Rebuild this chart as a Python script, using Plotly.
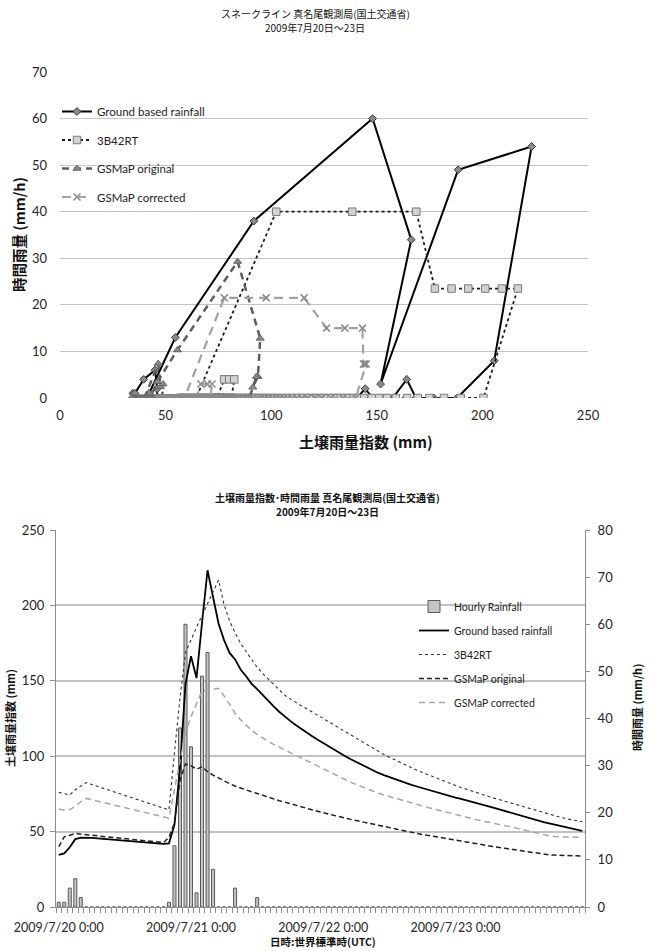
import plotly.graph_objects as go
import pandas as pd

# ---------------- data ----------------
hours = pd.date_range("2009-07-20 00:00", periods=96, freq="h")

# ground based hourly rainfall (mm/h)
ground_rain = [1, 1, 4, 6, 2, 0, 0, 0, 0, 0,
               0, 0, 0, 0, 0, 0, 0, 0, 0, 0,
               1, 13, 38, 60, 34, 3, 49, 54, 8, 0,
               0, 0, 4, 0, 0, 0, 2, 0, 0, 0,
               0, 0, 0, 0, 0, 0, 0, 0, 0, 0,
               0, 0, 0, 0, 0, 0, 0, 0, 0, 0,
               0, 0, 0, 0, 0, 0, 0, 0, 0, 0,
               0, 0, 0, 0, 0, 0, 0, 0, 0, 0,
               0, 0, 0, 0, 0, 0, 0, 0, 0, 0,
               0, 0, 0, 0, 0, 0]
# soil water index (mm) from ground rainfall
ground_swi = [34.5, 35.5, 39.6, 45.0, 46.0, 46.0, 45.8, 45.5, 45.2, 44.9,
              44.6, 44.3, 44.0, 43.7, 43.4, 43.1, 42.8, 42.5, 42.2, 41.9,
              42.2, 54.6, 91.8, 148.0, 166.3, 151.8, 188.5, 223.3, 205.6, 188.0,
              177.0, 168.5, 164.2, 157.5, 153.0, 148.0, 144.5, 140.6, 136.5, 133.0,
              129.5, 126.3, 123.4, 120.7, 118.1, 115.6, 113.2, 110.9, 108.6, 106.4,
              104.2, 102.0, 100.0, 98.0, 96.1, 94.2, 92.4, 90.6, 88.9, 87.5,
              86.1, 84.8, 83.5, 82.2, 81.0, 79.9, 78.8, 77.7, 76.6, 75.5,
              74.4, 73.5, 72.6, 71.7, 70.8, 69.9, 69.0, 67.9, 66.8, 65.7,
              64.6, 63.5, 62.4, 61.3, 60.3, 59.3, 58.3, 57.3, 56.3, 55.4,
              54.5, 53.7, 52.9, 52.1, 51.3, 50.5]

trmm_rain = [0, 0, 0, 4, 4, 4, 0, 0, 0, 0,
             0, 0, 0, 0, 0, 0, 0, 0, 0, 0,
             0, 40, 40, 40, 23.5, 23.5, 23.5, 23.5, 23.5, 23.5,
             0, 0, 0, 0, 0, 0, 0, 0, 0, 0,
             0, 0, 0, 0, 0, 0, 0, 0, 0, 0,
             0, 0, 0, 0, 0, 0, 0, 0, 0, 0,
             0, 0, 0, 0, 0, 0, 0, 0, 0, 0,
             0, 0, 0, 0, 0, 0, 0, 0, 0, 0,
             0, 0, 0, 0, 0, 0, 0, 0, 0, 0,
             0, 0, 0, 0, 0, 0]
trmm_swi = [76.0, 75.0, 74.3, 77.8, 80.1, 82.5, 81.2, 80.0, 78.8, 77.6,
            76.4, 75.2, 74.0, 72.8, 71.6, 70.4, 69.2, 68.0, 66.8, 65.6,
            64.4, 102.4, 138.4, 168.7, 177.5, 185.4, 193.3, 201.3, 209.2, 216.8,
            200.5, 189.7, 181.8, 174.9, 169.4, 164.3, 159.0, 154.8, 151.1, 147.6,
            143.7, 140.5, 138.0, 135.6, 133.5, 131.4, 129.4, 127.2, 125.0, 122.8,
            120.6, 118.5, 116.3, 114.1, 111.9, 109.6, 107.4, 105.2, 103.0, 101.1,
            99.3, 97.5, 95.7, 93.9, 92.2, 90.7, 89.2, 87.7, 86.2, 84.7,
            83.2, 81.9, 80.6, 79.3, 78.0, 76.7, 75.5, 74.4, 73.3, 72.2,
            71.1, 70.0, 68.9, 67.8, 66.7, 65.6, 64.5, 63.4, 62.3, 61.3,
            60.4, 59.5, 58.6, 57.8, 57.2, 56.6]

orig_rain = [0, 7.4, 2.4, 3.0, 0, 0, 0, 0, 0, 0,
             0, 0, 0, 0, 0, 0, 0, 0, 0, 0,
             3.5, 10.3, 29.3, 12.8, 4.6, 2.3, 4.6, 0, 0, 0,
             0, 0, 0, 0, 0, 0, 0, 0, 0, 0,
             0, 0, 0, 0, 0, 0, 0, 0, 0, 0,
             0, 0, 0, 0, 0, 0, 0, 0, 0, 0,
             0, 0, 0, 0, 0, 0, 0, 0, 0, 0,
             0, 0, 0, 0, 0, 0, 0, 0, 0, 0,
             0, 0, 0, 0, 0, 0, 0, 0, 0, 0,
             0, 0, 0, 0, 0, 0]
orig_swi = [40.0, 46.5, 47.6, 48.8, 48.3, 47.9, 47.5, 47.1, 46.7, 46.3,
            45.9, 45.5, 45.1, 44.7, 44.3, 43.9, 43.6, 43.3, 43.0, 42.7,
            46.1, 55.6, 84.1, 94.8, 93.7, 91.3, 93.0, 89.7, 87.5, 85.5,
            83.5, 81.8, 80.2, 78.8, 77.5, 76.4, 75.3, 74.0, 72.7, 71.6,
            70.5, 69.6, 68.7, 67.6, 66.5, 65.4, 64.3, 63.4, 62.5, 61.6,
            60.6, 59.7, 58.8, 58.1, 57.3, 56.6, 55.9, 55.1, 54.4, 53.6,
            52.7, 51.9, 51.0, 50.2, 49.3, 48.7, 48.1, 47.5, 46.8, 46.2,
            45.6, 45.0, 44.3, 43.7, 43.1, 42.4, 41.8, 41.2, 40.6, 40.0,
            39.4, 38.9, 38.3, 37.7, 37.2, 36.6, 36.0, 35.5, 34.9, 34.6,
            34.4, 34.2, 34.0, 33.9, 33.8, 33.8]

corr_rain = [0, 0, 0, 3, 3, 3, 0, 0, 0, 0,
             0, 0, 0, 0, 0, 0, 0, 0, 0, 0,
             0, 21.5, 21.5, 21.5, 15, 15, 15, 7.3, 7.3, 7.3,
             0, 0, 0, 0, 0, 0, 0, 0, 0, 0,
             0, 0, 0, 0, 0, 0, 0, 0, 0, 0,
             0, 0, 0, 0, 0, 0, 0, 0, 0, 0,
             0, 0, 0, 0, 0, 0, 0, 0, 0, 0,
             0, 0, 0, 0, 0, 0, 0, 0, 0, 0,
             0, 0, 0, 0, 0, 0, 0, 0, 0, 0,
             0, 0, 0, 0, 0, 0]
corr_swi = [64.8, 64.3, 64.6, 66.7, 69.8, 72.0, 71.1, 70.2, 69.3, 68.4,
            67.6, 66.7, 65.8, 64.9, 64.0, 63.1, 62.3, 61.4, 60.5, 59.7,
            58.9, 77.8, 97.6, 115.6, 126.2, 134.9, 143.2, 143.7, 144.3, 145.0,
            140.0, 134.0, 128.5, 124.1, 120.5, 117.2, 114.5, 112.0, 109.8, 107.8,
            106.0, 104.2, 102.4, 100.6, 98.8, 97.0, 95.3, 93.4, 91.5, 89.7,
            87.8, 86.0, 84.2, 82.7, 81.2, 79.7, 78.3, 76.8, 75.4, 74.3,
            73.2, 72.1, 71.0, 69.9, 68.8, 67.9, 66.9, 66.0, 65.1, 64.1,
            63.2, 62.3, 61.4, 60.5, 59.5, 58.6, 57.7, 57.0, 56.2, 55.5,
            54.7, 54.0, 53.2, 52.3, 51.4, 50.5, 49.5, 48.6, 47.7, 47.2,
            46.8, 46.5, 46.3, 46.2, 46.2, 46.2]

series_names = ["Ground based rainfall", "3B42RT", "GSMaP original", "GSMaP corrected"]
bar_name = "Hourly Rainfall"

top_title_1 = "スネークライン 真名尾観測局(国土交通省)"
top_title_2 = "2009年7月20日～23日"
bottom_title_1 = "<b>土壌雨量指数･時間雨量 真名尾観測局(国土交通省)</b>"
bottom_title_2 = "<b>2009年7月20日～23日</b>"
top_ytitle = "<b>時間雨量 (mm/h)</b>"
top_xtitle = "<b>土壌雨量指数 (mm)</b>"
bot_ytitle_left = "<b>土壌雨量指数 (mm)</b>"
bot_ytitle_right = "<b>時間雨量 (mm/h)</b>"
bot_xtitle = "<b>日時:世界標準時(UTC)</b>"

# ---------------- figure ----------------
W, H = 653, 951
LAT = "Lato, 'Open Sans', sans-serif"
CJK = "'Noto Sans CJK JP', 'Noto Sans', sans-serif"

def px(xp):
    return xp / W

def py(yp):
    return 1 - yp / H

fig = go.Figure()

# ---- top: snake line ----
top_styles = [
    dict(line=dict(color="black", width=2),
         marker=dict(symbol="diamond", size=6, color="#8a8a8a", line=dict(color="#3a3a3a", width=1))),
    dict(line=dict(color="#1a1a1a", width=1.8, dash="dot"),
         marker=dict(symbol="square", size=7.5, color="#d2d2d2", line=dict(color="#7a7a7a", width=1))),
    dict(line=dict(color="#5e5e5e", width=2.5, dash="7px,5px"),
         marker=dict(symbol="triangle-up", size=7, color="#8a8a8a", line=dict(color="#666666", width=1))),
    dict(line=dict(color="#a2a2a2", width=2.2, dash="9px,6px"),
         marker=dict(symbol="x-thin", size=7, color="#8a8a8a", line=dict(color="#8a8a8a", width=1.5))),
]
top_x = [ground_swi, trmm_swi, orig_swi, corr_swi]
top_y = [ground_rain, trmm_rain, orig_rain, corr_rain]
for i, nm in enumerate(series_names):
    fig.add_trace(go.Scatter(
        x=top_x[i], y=top_y[i], name=nm, mode="lines+markers",
        xaxis="x", yaxis="y", legend="legend", legendgroup="t%d" % i,
        **top_styles[i]))

# ---- bottom: time series ----
fig.add_trace(go.Bar(
    x=hours, y=ground_rain, name=bar_name, xaxis="x2", yaxis="y2",
    legend="legend2", legendgroup="b0", legendrank=1,
    width=0.55 * 3600000,
    marker=dict(color="#c4c4c4", line=dict(color="#5a5a5a", width=1))))

bot_styles = [
    dict(color="black", width=1.8),
    dict(color="#333333", width=1.1, dash="dot"),
    dict(color="#1e1e1e", width=1.5, dash="5px,3px"),
    dict(color="#a6a6a6", width=1.5, dash="6px,4px"),
]
bot_y = [ground_swi, trmm_swi, orig_swi, corr_swi]
for i, nm in enumerate(series_names):
    fig.add_trace(go.Scatter(
        x=hours, y=bot_y[i], name=nm, mode="lines", line=bot_styles[i],
        xaxis="x2", yaxis="y3", legend="legend2", legendgroup="b%d" % (i + 1),
        legendrank=i + 2))

tickfont = dict(family=LAT, size=13, color="#262626")

fig.update_layout(
    width=W, height=H,
    margin=dict(l=0, r=0, t=0, b=0),
    paper_bgcolor="white", plot_bgcolor="white",
    font=dict(family=LAT, size=12, color="#222222"),
    showlegend=True,
    xaxis=dict(domain=[px(60), px(588)], range=[0, 250], dtick=50,
               showgrid=False, zeroline=False, showline=False, ticks="",
               ticklabelstandoff=8,
               tickfont=tickfont, anchor="y", automargin=False),
    yaxis=dict(domain=[py(398), py(72)], range=[0, 70], dtick=10,
               showgrid=True, gridcolor="#c4c4c4", gridwidth=1,
               zeroline=False, showline=False, ticks="",
               ticklabelstandoff=12,
               tickfont=tickfont, anchor="x", automargin=False),
    xaxis2=dict(domain=[px(56), px(585)], type="date",
                range=["2009-07-19 23:30", "2009-07-23 23:30"],
                tick0="2009-07-20 00:00", dtick=86400000,
                tickformat="%Y/%-m/%-d %-H:%M",
                showgrid=False, zeroline=False, showline=True,
                linecolor="#8c8c8c", linewidth=1, ticks="",
                ticklabelstandoff=9,
                minor=dict(ticks="outside", ticklen=5, tickcolor="#8c8c8c",
                           tick0="2009-07-19 23:30", dtick=3600000, showgrid=False),
                tickfont=dict(family=LAT, size=12.5, color="#262626"),
                anchor="y3", automargin=False),
    yaxis2=dict(domain=[py(907), py(530)], range=[0, 80], dtick=10,
                side="right", anchor="x2", showgrid=False, zeroline=False,
                showline=True, linecolor="#8c8c8c", linewidth=1,
                ticks="outside", ticklen=4, tickcolor="#8c8c8c",
                ticklabelstandoff=5,
                tickfont=tickfont, automargin=False),
    yaxis3=dict(domain=[py(907), py(530)], range=[0, 250], dtick=50,
                side="left", anchor="x2", overlaying="y2",
                showgrid=True, gridcolor="#c2c2c2", gridwidth=2,
                zeroline=False, showline=True, linecolor="#8c8c8c", linewidth=1,
                ticks="outside", ticklen=5, tickcolor="#8c8c8c",
                ticklabelstandoff=3,
                tickfont=tickfont, automargin=False),
    legend=dict(x=px(57), y=py(97), xanchor="left", yanchor="top",
                bgcolor="rgba(0,0,0,0)", traceorder="grouped",
                tracegroupgap=9.5, font=dict(family=LAT, size=11.5, color="#222222"),
                itemwidth=30),
    legend2=dict(x=px(414), y=py(592), xanchor="left", yanchor="top",
                 bgcolor="rgba(0,0,0,0)", traceorder="grouped",
                 tracegroupgap=5, font=dict(family=LAT, size=10.5, color="#222222"),
                 itemwidth=30),
    bargap=0.4,
)

ann = [
    dict(text=top_title_1, x=px(315), y=py(13.5), font=dict(family=CJK, size=10, color="#111111")),
    dict(text=top_title_2, x=px(315), y=py(27.5), font=dict(family=CJK, size=10, color="#111111")),
    dict(text=top_ytitle, x=px(18), y=py(235), textangle=-90, font=dict(family=CJK, size=14.5, color="#111111")),
    dict(text=top_xtitle, x=px(366), y=py(441), font=dict(family=CJK, size=15, color="#111111")),
    dict(text=bottom_title_1, x=px(328), y=py(497), font=dict(family=CJK, size=10, color="#111111")),
    dict(text=bottom_title_2, x=px(328), y=py(511), font=dict(family=CJK, size=10, color="#111111")),
    dict(text=bot_ytitle_left, x=px(10), y=py(718), textangle=-90, font=dict(family=CJK, size=11, color="#111111")),
    dict(text=bot_ytitle_right, x=px(637), y=py(708), textangle=-90, font=dict(family=CJK, size=11, color="#111111")),
    dict(text=bot_xtitle, x=px(323), y=py(941), font=dict(family=CJK, size=10.5, color="#111111")),
]
for a in ann:
    a.update(xref="paper", yref="paper", showarrow=False, xanchor="center", yanchor="middle")
fig.update_layout(annotations=ann)

fig.write_html("out.html", config={"displayModeBar": False},
               post_script="document.body.style.margin='0px';")
